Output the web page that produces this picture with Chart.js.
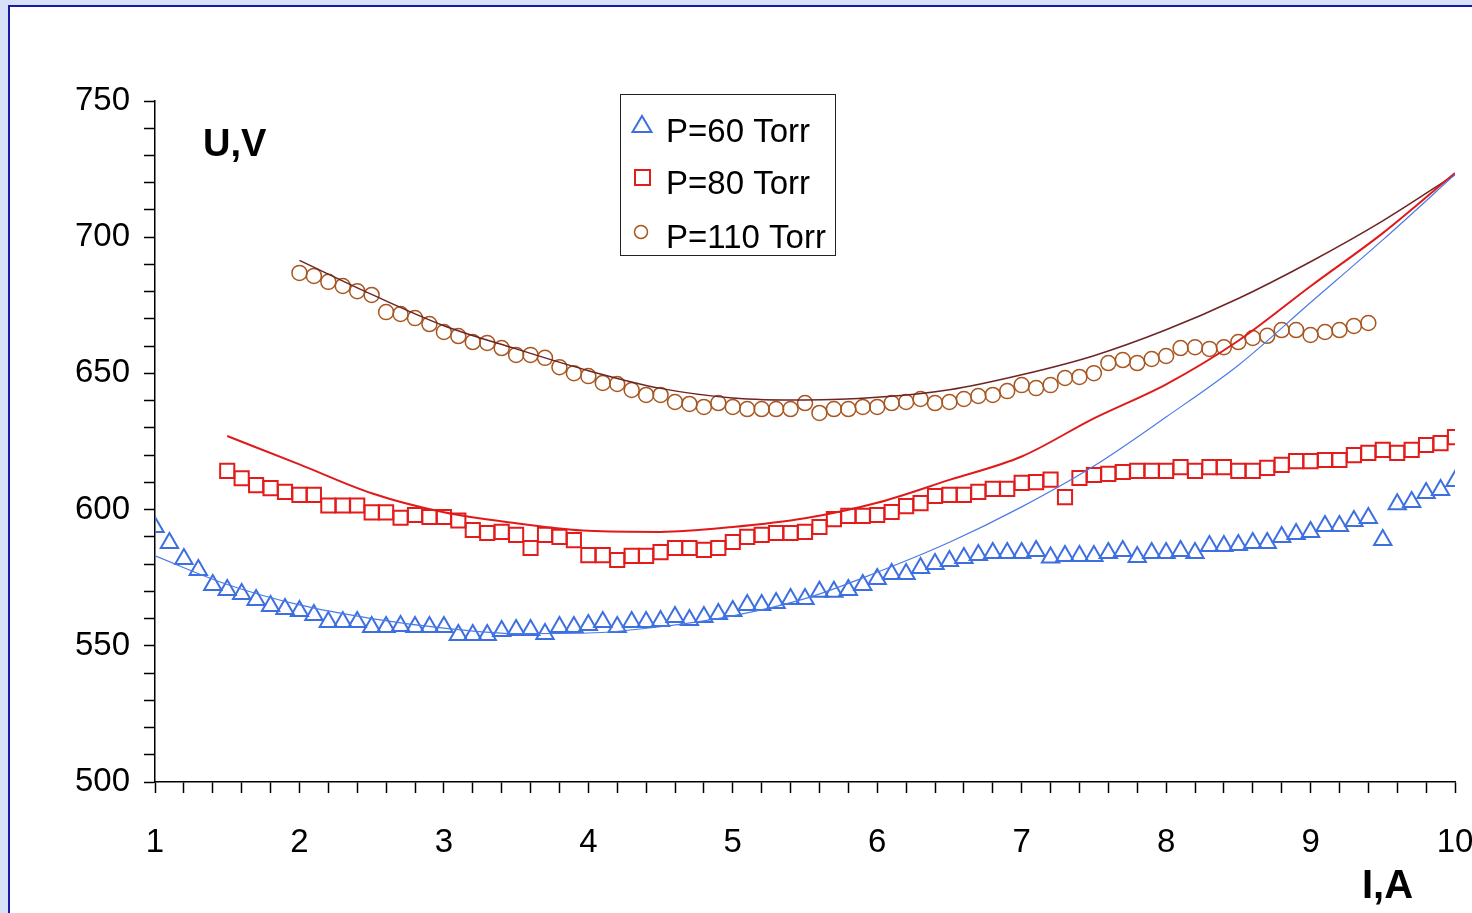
<!DOCTYPE html>
<html>
<head>
<meta charset="utf-8">
<script src="https://cdn.jsdelivr.net/npm/chart.js@4"></script>
<style>
  html, body { margin: 0; padding: 0; }
  body { width: 1472px; height: 913px; background: #d9e1f8; position: relative; overflow: hidden; }
  #frame { position: absolute; left: 8px; top: 5px; right: 0; bottom: 0; background: #fff;
           border-left: 2px solid #1a1aa8; border-top: 2px solid #1a1aa8; }
  #myChart { position: absolute; left: 0; top: 0; }
</style>
</head>
<body>
<div id="frame"></div>
<canvas id="myChart" width="1472" height="913"></canvas>
<script>
// current, A (step 0.1)
let current = [1.0, 1.1, 1.2, 1.3, 1.4, 1.5, 1.6, 1.7, 1.8, 1.9,
  2.0, 2.1, 2.2, 2.3, 2.4, 2.5, 2.6, 2.7, 2.8, 2.9,
  3.0, 3.1, 3.2, 3.3, 3.4, 3.5, 3.6, 3.7, 3.8, 3.9,
  4.0, 4.1, 4.2, 4.3, 4.4, 4.5, 4.6, 4.7, 4.8, 4.9,
  5.0, 5.1, 5.2, 5.3, 5.4, 5.5, 5.6, 5.7, 5.8, 5.9,
  6.0, 6.1, 6.2, 6.3, 6.4, 6.5, 6.6, 6.7, 6.8, 6.9,
  7.0, 7.1, 7.2, 7.3, 7.4, 7.5, 7.6, 7.7, 7.8, 7.9,
  8.0, 8.1, 8.2, 8.3, 8.4, 8.5, 8.6, 8.7, 8.8, 8.9,
  9.0, 9.1, 9.2, 9.3, 9.4, 9.5, 9.6, 9.7, 9.8, 9.9, 10.0];

// U, V measured
let p60 = [593.6, 587.7, 581.9, 577.8, 572.3, 570.5, 569.0, 566.8, 564.6, 563.5,
  562.8, 561.3, 558.7, 558.7, 558.7, 556.9, 556.9, 557.3, 556.9, 556.9,
  556.9, 554.0, 554.0, 554.0, 555.4, 555.8, 555.8, 554.3, 556.9, 556.9,
  557.6, 558.7, 556.9, 558.7, 558.7, 559.1, 560.6, 559.5, 560.6, 561.7,
  562.8, 565.0, 565.0, 565.7, 567.2, 567.2, 569.8, 569.8, 570.5, 572.3,
  574.5, 576.4, 576.4, 578.6, 580.0, 581.1, 582.2, 583.3, 584.1, 584.1,
  584.1, 584.8, 582.4, 583.0, 583.0, 583.0, 584.1, 584.8, 582.6, 584.1,
  584.1, 584.8, 584.1, 586.6, 586.6, 587.0, 587.7, 587.7, 589.9, 591.0,
  591.8, 594.0, 594.0, 595.8, 596.9, 588.8, 602.0, 602.8, 606.1, 607.2, 610.5];

let p80 = [null, null, null, null, null, 614.2, 611.5, 609.0, 607.9, 606.5,
  605.4, 605.4, 601.5, 601.5, 601.5, 599.0, 599.0, 597.0, 598.0, 597.3,
  597.3, 596.0, 592.5, 591.4, 591.8, 590.7, 585.9, 590.7, 590.0, 588.8,
  583.3, 583.3, 581.5, 583.0, 583.0, 584.4, 585.9, 585.9, 585.2, 585.9,
  588.1, 590.0, 590.7, 591.4, 591.4, 591.8, 593.6, 596.5, 597.7, 597.7,
  598.0, 599.1, 601.3, 602.4, 605.0, 605.4, 605.4, 606.5, 607.6, 607.6,
  609.8, 610.1, 611.0, 604.6, 611.6, 612.7, 613.1, 613.8, 614.2, 614.2,
  614.2, 615.6, 614.2, 615.6, 615.6, 614.2, 614.2, 615.3, 616.4, 617.8,
  617.8, 618.2, 618.2, 620.0, 620.8, 621.9, 620.8, 621.9, 623.7, 624.4, 626.6];

let p110 = [null, null, null, null, null, null, null, null, null, null,
  686.9, 685.8, 683.6, 682.1, 680.2, 678.8, 672.5, 671.8, 670.3, 668.1,
  665.2, 663.7, 661.5, 661.2, 659.3, 656.8, 656.8, 655.7, 652.3, 650.1,
  649.0, 646.5, 646.1, 643.9, 642.1, 642.1, 639.5, 638.8, 637.7, 639.1,
  637.7, 636.9, 636.9, 636.9, 636.9, 639.1, 635.5, 636.9, 636.9, 637.7,
  637.7, 639.1, 639.5, 640.6, 639.1, 639.5, 640.6, 641.7, 642.1, 643.5,
  645.7, 644.6, 645.7, 648.3, 648.7, 650.1, 653.8, 654.9, 653.8, 655.3,
  656.4, 659.3, 659.6, 659.0, 659.6, 661.5, 663.0, 663.8, 665.9, 665.9,
  664.1, 665.2, 665.9, 667.4, 668.5, null, null, null, null, null, null];

// fitted curves
let fitCurrent = [1.0, 1.5, 2.0, 2.5, 3.0, 3.5, 4.0, 4.5, 5.0, 5.5, 6.0, 6.5, 7.0, 7.5, 8.0, 8.5, 9.0, 9.5, 10.0];
let fit60 = [583, 572.5, 565, 560, 556.5, 554.5, 554.7, 557, 561, 567.3, 577, 588, 601, 616, 634, 653, 676, 699, 723];
let fit80 = [null, 627, 616.6, 606, 599, 595, 592.2, 591.8, 593.6, 596.8, 602.5, 610.9, 619.5, 633.5, 646, 662, 682, 701.5, 723.6];
let fit110 = [null, null, 691.5, 679, 667.5, 659, 651, 644.5, 641, 640.2, 641.2, 644, 649.5, 656.5, 666, 677.5, 691, 706, 723];

let seriesLabels = ['P=60 Torr', 'P=80 Torr', 'P=110 Torr'];

function toPoints(xs, ys) {
  return xs.map(function (x, i) { return { x: x, y: ys[i] }; })
           .filter(function (p) { return p.y !== null; });
}

const FONT = "'Liberation Sans', Arial, sans-serif";
const blue = '#3d6fe0';
const red = '#e21b1b';
const brown = '#a8561f';

// legend and axis names drawn on the canvas
let extras = {
  id: 'extras',
  afterDraw: function (chart) {
    let ctx = chart.ctx;
    ctx.save();
    ctx.fillStyle = '#000';
    ctx.font = 'bold 38px ' + FONT;
    ctx.textBaseline = 'alphabetic';
    ctx.fillText('U,V', 203, 156);
    ctx.font = 'bold 40px ' + FONT;
    ctx.fillText('I,A', 1362, 898);

    // legend box
    ctx.fillStyle = '#fff';
    ctx.fillRect(620.5, 94.5, 215, 161);
    ctx.strokeStyle = '#222';
    ctx.lineWidth = 1;
    ctx.strokeRect(620.5, 94.5, 215, 161);
    let baselines = [142, 194, 248];
    ctx.font = '33px ' + FONT;
    ctx.fillStyle = '#000';
    seriesLabels.forEach(function (t, i) {
      ctx.fillText(t, 666, baselines[i]);
    });
    // markers
    ctx.lineWidth = 2;
    ctx.strokeStyle = blue;
    ctx.beginPath();
    ctx.moveTo(642, 116); ctx.lineTo(651.5, 132); ctx.lineTo(632.5, 132); ctx.closePath();
    ctx.stroke();
    ctx.strokeStyle = red;
    ctx.strokeRect(635, 170, 15, 15);
    ctx.lineWidth = 1.5;
    ctx.strokeStyle = brown;
    ctx.beginPath();
    ctx.arc(641, 232, 6.5, 0, Math.PI * 2);
    ctx.stroke();
    ctx.restore();
  }
};

let config = {
  type: 'scatter',
  data: {
    datasets: [
      { label: 'fit60', data: toPoints(fitCurrent, fit60), showLine: true, borderColor: '#4a7be6', borderWidth: 1.2,
        pointRadius: 0, cubicInterpolationMode: 'monotone', order: 0 },
      { label: 'fit80', data: toPoints(fitCurrent, fit80), showLine: true, borderColor: '#e01a1a', borderWidth: 2,
        pointRadius: 0, cubicInterpolationMode: 'monotone', order: 0 },
      { label: 'fit110', data: toPoints(fitCurrent, fit110), showLine: true, borderColor: '#6e2424', borderWidth: 1.5,
        pointRadius: 0, cubicInterpolationMode: 'monotone', order: 0 },
      { label: seriesLabels[0], data: toPoints(current, p60), pointStyle: 'triangle', pointRadius: 10,
        borderColor: blue, backgroundColor: 'rgba(0,0,0,0)', borderWidth: 2, order: 1 },
      { label: seriesLabels[1], data: toPoints(current, p80), pointStyle: 'rect', pointRadius: 10,
        borderColor: red, backgroundColor: 'rgba(0,0,0,0)', borderWidth: 2, order: 1 },
      { label: seriesLabels[2], data: toPoints(current, p110), pointStyle: 'circle', pointRadius: 7.5,
        borderColor: brown, backgroundColor: 'rgba(0,0,0,0)', borderWidth: 1.5, order: 1 }
    ]
  },
  options: {
    responsive: false,
    animation: false,
    layout: { padding: { top: 101, right: 17, left: 0, bottom: 0 } },
    plugins: { legend: { display: false }, tooltip: { enabled: false } },
    scales: {
      x: {
        type: 'linear',
        min: 1,
        max: 10,
        afterFit: function (s) { s.height = 131; s.paddingLeft = 0; s.paddingRight = 0; },
        grid: { drawOnChartArea: false, color: '#000', tickLength: 11, tickWidth: 1.5 },
        border: { color: '#000', width: 1.5 },
        ticks: {
          stepSize: 0.2,
          autoSkip: false,
          maxRotation: 0,
          padding: 30,
          color: '#000',
          font: { family: FONT, size: 33 },
          callback: function (value) {
            return Math.abs(value - Math.round(value)) < 1e-6 ? String(Math.round(value)) : '';
          }
        }
      },
      y: {
        min: 500,
        max: 750,
        afterFit: function (s) { s.width = 155; s.paddingTop = 0; s.paddingBottom = 0; },
        grid: { drawOnChartArea: false, color: '#000', tickLength: 11, tickWidth: 1.5 },
        border: { color: '#000', width: 1.5 },
        ticks: {
          stepSize: 10,
          autoSkip: false,
          padding: 14,
          color: '#000',
          font: { family: FONT, size: 33 },
          callback: function (value) {
            return value % 50 === 0 ? String(value) : '';
          }
        }
      }
    }
  },
  plugins: [extras]
};

let chart = new Chart(document.getElementById('myChart'), config);
</script>
</body>
</html>
